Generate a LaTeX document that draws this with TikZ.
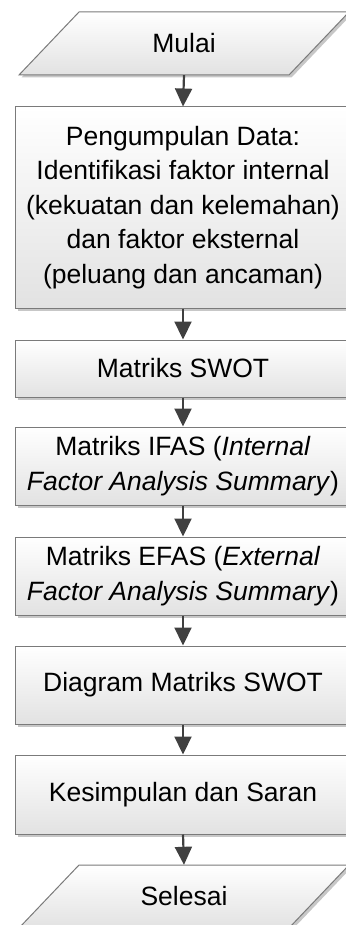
\documentclass[tikz,border=0pt]{standalone}
\usepackage{fontspec}
\setmainfont{Liberation Sans}
\usetikzlibrary{arrows.meta,shadows}
\definecolor{boxborder}{HTML}{7A7A7A}
\definecolor{boxbot}{HTML}{E2E2E2}
\definecolor{arrowc}{HTML}{404040}
\tikzset{
  shapefill/.style={draw=boxborder, line width=1pt, top color=white, bottom color=boxbot,
    drop shadow={shadow xshift=2.5pt, shadow yshift=-2.5pt, fill=black!22, opacity=1}},
  box/.style={shapefill, minimum width=336pt, inner sep=0pt, align=center,
    font=\fontsize{26.5}{34.6}\selectfont},
  label/.style={inner sep=0pt, minimum height=63pt, align=center,
    font=\fontsize{26.5}{34.6}\selectfont},
  flow/.style={draw=arrowc, line width=2.2pt, -{Triangle[width=17pt,length=18pt]}, shorten >=0pt}
}
\begin{document}
\begin{tikzpicture}[x=1pt,y=-1pt]
\useasboundingbox (0,0) rectangle (345,925);
% start / end parallelograms
\path[shapefill] (79,12) -- (349,12) -- (289,75) -- (19,75) -- cycle;
\node[label] (mulai) at (184,43.5) {Mulai};
\path[shapefill] (79,865) -- (349,865) -- (289,928) -- (19,928) -- cycle;
\node[label] (selesai) at (184,896.5) {Selesai};
% process boxes
\node[box, minimum height=201pt] (data) at (183,207.5)
  {Pengumpulan Data:\\Identifikasi faktor internal\\(kekuatan dan kelemahan)\\dan faktor eksternal\\(peluang dan ancaman)};
\node[box, minimum height=57pt] (swot) at (183,368.5) {Matriks SWOT};
\node[box, minimum height=78pt] (ifas) at (183,466)
  {Matriks IFAS (\textit{Internal}\\\textit{Factor Analysis Summary})};
\node[box, minimum height=78pt] (efas) at (183,576)
  {Matriks EFAS (\textit{External}\\\textit{Factor Analysis Summary})};
\node[box, minimum height=78pt] (diag) at (183,685) {Diagram Matriks SWOT};
\node[box, minimum height=79pt] (kes) at (183,794.5) {Kesimpulan dan Saran};
% connectors
\draw[flow] (mulai.south) -- (data.north);
\draw[flow] (data) -- (swot);
\draw[flow] (swot) -- (ifas);
\draw[flow] (ifas) -- (efas);
\draw[flow] (efas) -- (diag);
\draw[flow] (diag) -- (kes);
\draw[flow] (kes.south) -- (selesai.north);
\end{tikzpicture}
\end{document}
